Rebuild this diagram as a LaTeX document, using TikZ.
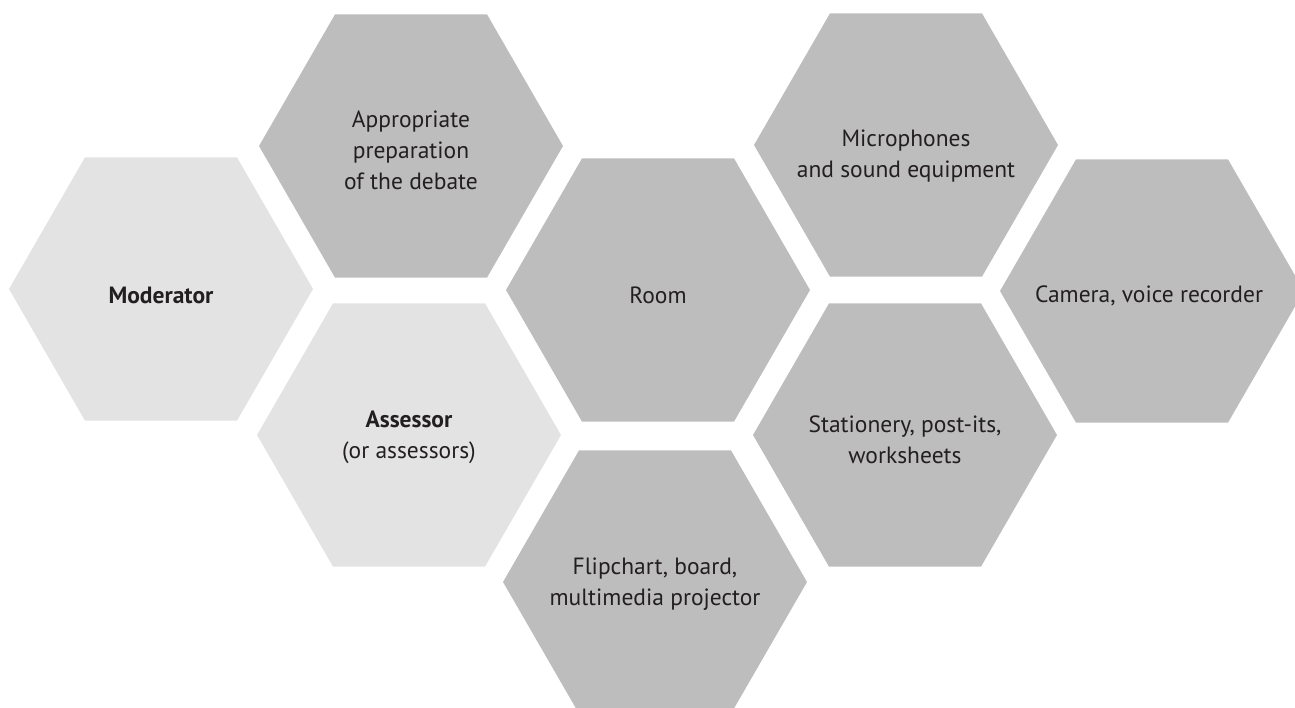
\documentclass[tikz,border=0pt]{standalone}
\usepackage{fontspec}
\setmainfont{PT Sans}
\usetikzlibrary{shapes.geometric}
\definecolor{hexlight}{HTML}{E3E3E3}
\definecolor{hexdark}{HTML}{BDBDBD}
\definecolor{txtcol}{HTML}{231F20}
\begin{document}
\begin{tikzpicture}[x=1pt,y=-1pt,
  hexbox/.style={regular polygon, regular polygon sides=6, minimum size=304pt,
    inner sep=0pt, outer sep=0pt, draw=none},
  lighthex/.style={hexbox, fill=hexlight},
  darkhex/.style={hexbox, fill=hexdark},
  label/.style={inner sep=0pt, outer sep=0pt, text=txtcol, align=center,
    font=\fontsize{23.5}{31}\selectfont}]
\useasboundingbox (0,0) rectangle (1295,708);
\clip (0,0) rectangle (1295,708);
% hexagons
\node[lighthex] (mod)  at (161,289) {};
\node[darkhex]  (prep) at (411,146) {};
\node[lighthex] (ass)  at (409,435) {};
\node[darkhex]  (room) at (658,290) {};
\node[darkhex]  (flip) at (655,582) {};
\node[darkhex]  (mic)  at (906,145) {};
\node[darkhex]  (stat) at (905,435) {};
\node[darkhex]  (cam)  at (1152,291) {};
% texts
\node[label] (mod-t)  at (161,295.5) {\textbf{Moderator}};
\node[label] (prep-t) at (411,150.5) {Appropriate\\preparation\\of the debate};
\node[label] (ass-t)  at (409,437.5) {\textbf{Assessor}\\(or assessors)};
\node[label] (room-t) at (658,295) {Room};
\node[label] (flip-t) at (655,584) {Flipchart, board,\\multimedia projector};
\node[label] (mic-t)  at (906,156) {Microphones\\and sound equipment};
\node[label] (stat-t) at (905,439.5) {Stationery, post-its,\\worksheets};
\node[label] (cam-t)  at (1149,296) {Camera, voice recorder};
\end{tikzpicture}
\end{document}
